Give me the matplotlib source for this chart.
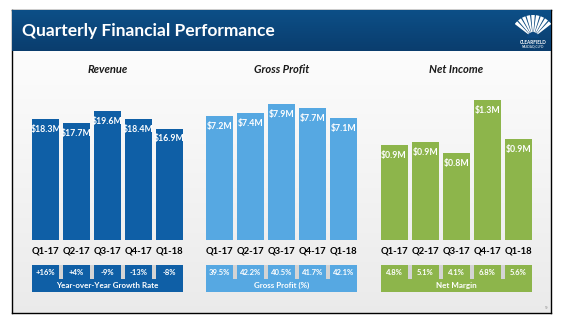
import numpy as np
import matplotlib
matplotlib.use("Agg")
import matplotlib.pyplot as plt
from matplotlib.patches import Wedge

W, H = 564, 324

quarters = ["Q1-17", "Q2-17", "Q3-17", "Q4-17", "Q1-18"]
revenue = [18.3, 17.7, 19.6, 18.4, 16.9]
revenue_labels = ["$18.3M", "$17.7M", "$19.6M", "$18.4M", "$16.9M"]
growth_labels = ["+16%", "+4%", "-9%", "-13%", "-8%"]
gross_profit = [7.2, 7.4, 7.9, 7.7, 7.1]
gross_profit_labels = ["$7.2M", "$7.4M", "$7.9M", "$7.7M", "$7.1M"]
gross_margin_labels = ["39.5%", "42.2%", "40.5%", "41.7%", "42.1%"]
net_income = [0.88, 0.91, 0.81, 1.30, 0.94]
net_income_labels = ["$0.9M", "$0.9M", "$0.8M", "$1.3M", "$0.9M"]
net_margin_labels = ["4.8%", "5.1%", "4.1%", "6.8%", "5.6%"]

DARK_BLUE = "#0F5FA6"
LIGHT_BLUE = "#56A8E2"
GREEN = "#8DB54B"
SEP_GRAY = "#D4D4D4"
FONT = "Lato"


def px_axes(fig, x0, y0, x1, y1, **kw):
    # pixel box (top-left origin) -> figure axes
    return fig.add_axes([x0 / W, 1 - y1 / H, (x1 - x0) / W, (y1 - y0) / H], **kw)


fig = plt.figure(figsize=(W / 100, H / 100), dpi=100)
fig.patch.set_facecolor("white")

# slide background with a soft gradient
bg = px_axes(fig, 12, 10, 551, 313)
grad = np.linspace(1.0, 0.92, 200).reshape(-1, 1)
bg.imshow(np.dstack([grad, grad, grad]), aspect="auto", extent=[0, 1, 0, 1])
bg.set_xticks([])
bg.set_yticks([])
for s in bg.spines.values():
    s.set_color("black")
    s.set_linewidth(1.0)

# header banner
hd = px_axes(fig, 12, 10, 551, 51)
hg = np.linspace(0, 1, 200).reshape(-1, 1)
c_top = np.array([0.05, 0.31, 0.53])
c_bot = np.array([0.04, 0.24, 0.43])
hd.imshow(c_top + (c_bot - c_top) * hg[:, :, None], aspect="auto", extent=[0, 1, 0, 1])
hd.axis("off")
fig.text(22 / W, 1 - 31 / H, "Quarterly Financial Performance", color="white",
         fontsize=12.5, fontweight="bold", family=FONT, va="center", ha="left")

# logo (rough shell fan)
lg = px_axes(fig, 515, 11, 551, 51)
lg.set_xlim(0, 36)
lg.set_ylim(0, 40)
lg.axis("off")
for a in np.linspace(42, 138, 9):
    lg.add_patch(Wedge((18, 13), 23, a - 4.5, a + 4.5, facecolor="white", edgecolor="none"))
lg.add_patch(Wedge((18, 13), 6, 0, 180, facecolor="#0B4780", edgecolor="none"))
lg.text(18, 9, "CLEARFIELD", color="white", fontsize=3.3, fontweight="bold",
        ha="center", va="center", family=FONT)
lg.text(18, 4, "NASDAQ:CLFD", color="white", fontsize=2.3, ha="center", va="center", family=FONT)


def panel(title, values, labels, box_labels, box_title, color, x0, x1, top, bottom):
    ax = px_axes(fig, x0, top, x1, bottom)
    x = np.arange(len(values))
    ax.bar(x, values, width=0.875, color=color, edgecolor="none")
    ax.set_xlim(-0.5, len(values) - 0.5)
    ax.set_ylim(0, max(values))
    ax.axis("off")
    for xi, v, lab in zip(x, values, labels):
        ax.annotate(lab, (xi, v), xytext=(0, -7.5), textcoords="offset points",
                    ha="center", va="center", color="white", fontsize=6.3,
                    fontweight="bold", family=FONT)
    for xi, q in zip(x, quarters):
        ax.annotate(q, (xi, 0), xytext=(0, -8), textcoords="offset points",
                    ha="center", va="center", color="black", fontsize=6.8,
                    fontweight="bold", family=FONT, annotation_clip=False)
    xc = (x0 + x1) / 2
    fig.text(xc / W, 1 - 69 / H, title, ha="center", va="center", fontsize=8,
             fontweight="bold", style="italic", family=FONT, color="#1a1a1a")

    # summary box under the bars
    bx = px_axes(fig, x0, 265, x1, 292)
    bx.set_xlim(-0.5, len(values) - 0.5)
    bx.set_ylim(0, 1)
    bx.axis("off")
    n = len(values)
    bx.bar(x, 0.52, bottom=0.48, width=0.875, color=color, edgecolor="none")
    bx.bar(x[:-1] + 0.5, 0.52, bottom=0.48, width=0.125, color=SEP_GRAY, edgecolor="none")
    bx.bar((n - 1) / 2, 0.48, width=n - 0.125, color=color, edgecolor="none")
    for xi, lab in zip(x, box_labels):
        bx.text(xi, 0.74, lab, ha="center", va="center", color="white", fontsize=5.5,
                fontweight="bold", family=FONT)
    bx.text((n - 1) / 2, 0.24, box_title, ha="center", va="center", color="white",
            fontsize=5.8, fontweight="bold", family=FONT)


panel("Revenue", revenue, revenue_labels, growth_labels, "Year-over-Year Growth Rate",
      DARK_BLUE, 30.4, 184.7, 110.7, 240)
panel("Gross Profit", gross_profit, gross_profit_labels, gross_margin_labels, "Gross Profit (%)",
      LIGHT_BLUE, 204.2, 359.2, 104.3, 239.5)
panel("Net Income", net_income, net_income_labels, net_margin_labels, "Net Margin",
      GREEN, 378.6, 534, 100, 240)

fig.text(546 / W, 1 - 308 / H, "9", fontsize=3, color="#888888", ha="center", va="center")

fig.savefig("out.png", dpi=100)
